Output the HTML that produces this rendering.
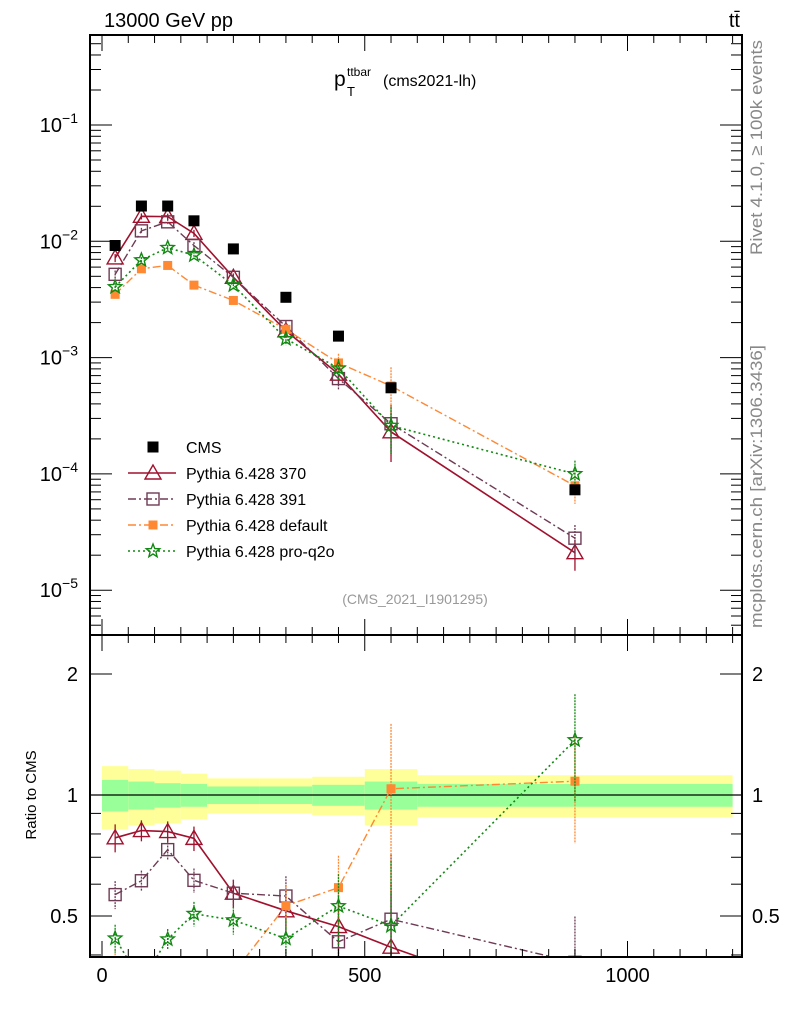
<!DOCTYPE html>
<html><head><meta charset="utf-8"><style>
html,body{margin:0;background:#fff;overflow:hidden;width:786px;height:1024px;}
svg{display:block;font-family:"Liberation Sans",sans-serif;}
</style></head><body>
<svg id="c" width="786" height="1024" xmlns="http://www.w3.org/2000/svg">
<text x="104" y="27" font-size="20">13000 GeV pp</text>
<text x="740" y="27" font-size="20" text-anchor="end">tt̄</text>
<g>
<text x="334" y="86" font-size="21">p</text>
<text x="347" y="76" font-size="12">ttbar</text>
<text x="347" y="96" font-size="13">T</text>
<text x="383" y="86" font-size="16">(cms2021-lh)</text>
</g>
<text x="415" y="604" font-size="14" fill="#999" text-anchor="middle">(CMS_2021_I1901295)</text>
<text transform="translate(762,255) rotate(-90)" font-size="17" fill="#888" textLength="215" lengthAdjust="spacingAndGlyphs">Rivet 4.1.0, ≥ 100k events</text>
<text transform="translate(762,628) rotate(-90)" font-size="17" fill="#888" textLength="283" lengthAdjust="spacingAndGlyphs">mcplots.cern.ch [arXiv:1306.3436]</text>
<text transform="translate(36,795) rotate(-90)" font-size="15" text-anchor="middle">Ratio to CMS</text>
<g id="g"></g>
</svg>
<script>
const binEdges=[0,50,100,150,200,300,400,500,600,1200];
const xCenters=[25,75,125,175,250,350,450,550,900];
const cmsVals=[9.2e-3,2.01e-2,2.01e-2,1.5e-2,8.6e-3,3.3e-3,1.53e-3,5.5e-4,7.3e-5];
const bandYellow=[0.18,0.16,0.15,0.13,0.10,0.10,0.11,0.16,0.12];
const bandGreen=[0.09,0.08,0.07,0.065,0.05,0.05,0.06,0.08,0.065];
const p370=[7.2e-3,1.64e-2,1.63e-2,1.17e-2,4.9e-3,1.7e-3,7.2e-4,2.3e-4,2.1e-5];
const p391=[5.2e-3,1.23e-2,1.47e-2,9.2e-3,4.9e-3,1.85e-3,6.6e-4,2.7e-4,2.8e-5];
const pDef=[3.5e-3,5.8e-3,6.2e-3,4.2e-3,3.1e-3,1.75e-3,9.0e-4,5.7e-4,7.9e-5];
const pQ2o=[4.05e-3,6.9e-3,8.8e-3,7.6e-3,4.2e-3,1.45e-3,8.1e-4,2.6e-4,1.0e-4];
const relErr=[0.08,0.06,0.06,0.07,0.08,0.12,0.2,0.45,0.3];
const yTickLabels=["-1","-2","-3","-4","-5"];
const ratioTicks=["2","1","0.5"];
const X0=90,X1=742,T=35,MB=635,RB=957;
const xs=v=>102+v*0.5255;
const ym=v=>125+(-1-Math.log10(v))*116.3;
const yr=r=>795-402*Math.log10(r);
const NS="http://www.w3.org/2000/svg";
const g=document.getElementById('g');
function mk(t,a,p){const e=document.createElementNS(NS,t);for(const k in a)e.setAttribute(k,a[k]);(p||g).appendChild(e);return e;}
const defs=mk('defs',{});
const c1=mk('clipPath',{id:'cm'},defs);mk('rect',{x:X0,y:T,width:X1-X0,height:MB-T},c1);
const c2=mk('clipPath',{id:'cr'},defs);mk('rect',{x:X0,y:MB,width:X1-X0,height:RB-MB},c2);
const gm=mk('g',{'clip-path':'url(#cm)'});

const gr=mk('g',{'clip-path':'url(#cr)'});

for(let i=0;i<9;i++){
 const a=xs(binEdges[i]),b=xs(binEdges[i+1]);
 let e=mk('rect',{x:a,y:yr(1+bandYellow[i]),width:b-a,height:yr(1-bandYellow[i])-yr(1+bandYellow[i]),fill:'#ffff99'},gr);
 
 e=mk('rect',{x:a,y:yr(1+bandGreen[i]),width:b-a,height:yr(1-bandGreen[i])-yr(1+bandGreen[i]),fill:'#99ff99'},gr);
 
}
mk('line',{x1:X0,x2:X1,y1:yr(1),y2:yr(1),stroke:'#000','stroke-width':1.3},gr);
function marker(p,type,x,y,col){
 let e;
 if(type==='sq')e=mk('rect',{x:x-5.5,y:y-5.5,width:11,height:11,fill:'#000'},p);
 else if(type==='tri')e=mk('polygon',{points:`${x},${y-8} ${x-8},${y+6} ${x+8},${y+6}`,fill:'none',stroke:col,'stroke-width':1.4},p);
 else if(type==='osq')e=mk('rect',{x:x-6,y:y-6,width:12,height:12,fill:'none',stroke:col,'stroke-width':1.4},p);
 else if(type==='fsq')e=mk('rect',{x:x-4.5,y:y-4.5,width:9,height:9,fill:col},p);
 else{let pts=[];for(let k=0;k<10;k++){const r=k%2?3:7,a=-Math.PI/2+k*Math.PI/5;pts.push((x+r*Math.cos(a)).toFixed(1)+','+(y+r*Math.sin(a)).toFixed(1));}
  e=mk('polygon',{points:pts.join(' '),fill:'none',stroke:col,'stroke-width':1.4},p);}
 return e;
}
const series=[
 {name:'pythia-370',vals:p370,col:'#a0112e',dash:'',m:'tri',w:1.6},
 {name:'pythia-391',vals:p391,col:'#6e3b55',dash:'8,3,2,3',m:'osq',w:1.4},
 {name:'pythia-default',vals:pDef,col:'#ff8833',dash:'8,3,2,3',m:'fsq',w:1.4},
 {name:'pythia-pro-q2o',vals:pQ2o,col:'#118811',dash:'2,3',m:'star',w:1.6}];
series.forEach(s=>{
 const pm=[],pr=[];
 s.vals.forEach((v,i)=>{pm.push(xs(xCenters[i])+','+ym(v));pr.push(xs(xCenters[i])+','+yr(v/cmsVals[i]));});
 let l=mk('polyline',{points:pm.join(' '),fill:'none',stroke:s.col,'stroke-width':s.w,'stroke-dasharray':s.dash},gm);
 
 l=mk('polyline',{points:pr.join(' '),fill:'none',stroke:s.col,'stroke-width':s.w,'stroke-dasharray':s.dash},gr);
 
 s.vals.forEach((v,i)=>{
  const x=xs(xCenters[i]),e=relErr[i];
  mk('line',{x1:x,x2:x,y1:ym(v*(1+e)),y2:ym(v*Math.max(1-e,0.05)),stroke:s.col,'stroke-width':1.3,'stroke-dasharray':s.dash?'2,1':''},gm);
  const r=v/cmsVals[i];
  mk('line',{x1:x,x2:x,y1:yr(r*(1+e)),y2:yr(r*Math.max(1-e,0.05)),stroke:s.col,'stroke-width':1.3,'stroke-dasharray':s.dash?'2,1':''},gr);
  let m=marker(gm,s.m,x,ym(v),s.col);
  
  m=marker(gr,s.m,x,yr(r),s.col);
  
 });
});
cmsVals.forEach((v,i)=>{const m=marker(gm,'sq',xs(xCenters[i]),ym(v),'#000');
 });
for(const [a,b] of [[T,MB],[MB,RB]]){const f=mk('rect',{x:X0,y:a,width:X1-X0,height:b-a,fill:'none',stroke:'#000','stroke-width':2});
 }
for(let v=0;v<=1200;v+=50){const x=xs(v),L=v%500===0?16:8;
 for(const [top,bot] of [[T,MB],[MB,RB]]){mk('line',{x1:x,x2:x,y1:top,y2:top+L,stroke:'#000'});mk('line',{x1:x,x2:x,y1:bot,y2:bot-L,stroke:'#000'});}
 if(v%500===0){const t=mk('text',{x:x,y:982,'font-size':20,'text-anchor':'middle'});t.textContent=v;
  }}
for(let d=-6;d<=0;d++)for(let k=1;k<10;k++){const v=k*Math.pow(10,d),y=ym(v);if(y<T||y>MB)continue;
 const L=k===1?22:11;mk('line',{x1:X0,x2:X0+L,y1:y,y2:y,stroke:'#000'});mk('line',{x1:X1,x2:X1-L,y1:y,y2:y,stroke:'#000'});}
yTickLabels.forEach((s,i)=>{const y=ym(Math.pow(10,+s));const t=mk('text',{x:78,y:y+7,'font-size':20,'text-anchor':'end'});
 t.innerHTML='10<tspan font-size="14" dy="-9">'+s.replace('-','−')+'</tspan>';
 });
[0.4,0.5,0.6,0.7,0.8,0.9,1,2].forEach(r=>{const y=yr(r);const L=(r===1||r===2||r===0.5)?22:11;
 mk('line',{x1:X0,x2:X0+L,y1:y,y2:y,stroke:'#000'});mk('line',{x1:X1,x2:X1-L,y1:y,y2:y,stroke:'#000'});});
ratioTicks.forEach(s=>{const y=yr(+s)+7;
 let t=mk('text',{x:78,y:y,'font-size':20,'text-anchor':'end'});t.textContent=s;
 
 t=mk('text',{x:752,y:y,'font-size':20});t.textContent=s;
 });
const leg=[['CMS','sq','#000',''],['Pythia 6.428 370','tri','#a0112e',''],['Pythia 6.428 391','osq','#6e3b55','8,3,2,3'],['Pythia 6.428 default','fsq','#ff8833','8,3,2,3'],['Pythia 6.428 pro-q2o','star','#118811','2,3']];
leg.forEach((l,i)=>{const y=447+i*26;const lg=mk('g',{});
 
 if(i>0)mk('line',{x1:128,x2:176,y1:y,y2:y,stroke:l[2],'stroke-width':1.5,'stroke-dasharray':l[3]},lg);
 marker(lg,l[1],153,y,l[2]);
 const t=mk('text',{x:186,y:y+6,'font-size':16},lg);t.textContent=l[0];});
</script>
</body></html>
